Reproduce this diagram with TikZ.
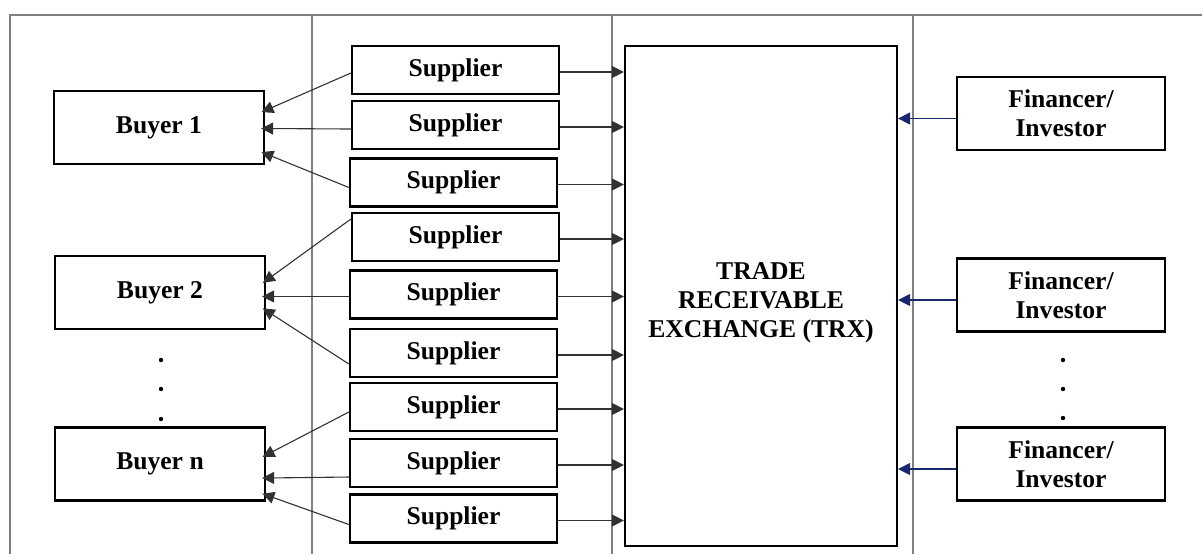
\documentclass[tikz,border=0pt]{standalone}
\usepackage{fontspec}
\setmainfont{Liberation Serif}
\usetikzlibrary{arrows.meta}
\definecolor{navy}{RGB}{25,40,110}
\definecolor{frame}{RGB}{128,128,128}
\definecolor{conn}{RGB}{50,50,50}
\tikzset{
  box/.style={draw=black, line width=1.1pt, fill=white, inner sep=0pt,
    font=\fontsize{12.8pt}{14.5pt}\selectfont\bfseries, align=center},
  buyer/.style={box, minimum width=105pt, minimum height=36.5pt},
  supplier/.style={box, minimum width=103.5pt, minimum height=24pt},
  fin/.style={box, minimum width=104pt, minimum height=36.5pt},
  divider/.style={draw=frame, line width=0.6pt},
  tobuyer/.style={draw=conn, line width=0.55pt, -{Triangle[length=6pt,width=6pt]}, shorten >=-2pt},
  totrx/.style={draw=conn, line width=0.55pt, -{Triangle[length=6pt,width=6pt]}},
  fromfin/.style={draw=navy, line width=0.55pt, -{Triangle[length=6pt,width=6pt]}},
  dotstyle/.style={fill=black, circle, inner sep=0pt, minimum size=2.2pt}
}
\begin{document}
\begin{tikzpicture}[x=0.5pt,y=-0.5pt]
\useasboundingbox (0,0) rectangle (1202,554);
% frame and dividers
\coordinate (tl) at (10,15);
\coordinate (tr) at (1202,15);
\coordinate (bl) at (10,554);
\draw[divider, line width=0.9pt] (tr) -- (tl) -- (bl);
\coordinate (d1t) at (312,15); \coordinate (d1b) at (312,554);
\coordinate (d2t) at (612,15); \coordinate (d2b) at (612,554);
\coordinate (d3t) at (913,15); \coordinate (d3b) at (913,554);
\draw[divider] (d1t) -- (d1b);
\draw[divider] (d2t) -- (d2b);
\draw[divider] (d3t) -- (d3b);

% buyers
\node[buyer] (b1) at (159,127.5) {Buyer 1};
\node[buyer] (b2) at (160,292.5) {Buyer 2};
\node[buyer] (bn) at (160,464) {Buyer n};
\node[dotstyle] (bd1) at (161,360) {};
\node[dotstyle] (bd2) at (161,389) {};
\node[dotstyle] (bd3) at (161,419) {};

% suppliers
\node[supplier] (s1) at (455.5,70) {Supplier};
\node[supplier] (s2) at (455.5,125) {Supplier};
\node[supplier] (s3) at (453.5,182.5) {Supplier};
\node[supplier] (s4) at (455.5,237) {Supplier};
\node[supplier] (s5) at (453.5,294.5) {Supplier};
\node[supplier] (s6) at (453.5,353) {Supplier};
\node[supplier] (s7) at (453.5,407) {Supplier};
\node[supplier] (s8) at (453.5,463) {Supplier};
\node[supplier] (s9) at (453.5,518.5) {Supplier};

% TRX
\node[box, minimum width=136pt, minimum height=250pt, fill=none] (trx) at (761,296) {};
\node[box, draw=none, fill=none] (trxtext) at (761,303)
  {TRADE\\RECEIVABLE\\EXCHANGE (TRX)};

% financers
\node[fin] (f1) at (1061,113.5) {Financer/\\Investor};
\node[fin] (f2) at (1061,295) {Financer/\\Investor};
\node[fin] (f3) at (1061,464) {Financer/\\Investor};
\node[dotstyle] (fd1) at (1063,360) {};
\node[dotstyle] (fd2) at (1063,389) {};
\node[dotstyle] (fd3) at (1063,418) {};

% supplier -> TRX
\foreach \s in {s1,s2,s3,s4,s5,s6,s7,s8,s9}{
  \draw[totrx] ([yshift=-1pt]\s.east) -- ([yshift=-1pt]\s.east -| trx.west);
}

% supplier -> buyer
\draw[tobuyer] ([yshift=-1.5pt]s1.west) -- ([yshift=8.5pt]b1.east);
\draw[tobuyer] ([yshift=-2pt]s2.west) -- ([yshift=-0.5pt]b1.east);
\draw[tobuyer] ([yshift=-2.5pt]s3.west) -- ([yshift=-13pt]b1.east);
\draw[tobuyer] ([yshift=9pt]s4.west) -- ([yshift=6pt]b2.east);
\draw[tobuyer] ([yshift=-1pt]s5.west) -- ([yshift=-2pt]b2.east);
\draw[tobuyer] ([yshift=-5.5pt]s6.west) -- ([yshift=-9pt]b2.east);
\draw[tobuyer] ([yshift=-2.5pt]s7.west) -- ([yshift=4.5pt]bn.east);
\draw[tobuyer] ([yshift=-7pt]s8.west) -- ([yshift=-7pt]bn.east);
\draw[tobuyer] ([yshift=-3pt]s9.west) -- ([yshift=-15.5pt]bn.east);

% financer -> TRX
\draw[fromfin] ([yshift=-2.5pt]f1.west) -- ([yshift=-2.5pt]f1.west -| trx.east);
\draw[fromfin] ([yshift=-2.5pt]f2.west) -- ([yshift=-2.5pt]f2.west -| trx.east);
\draw[fromfin] ([yshift=-2.5pt]f3.west) -- ([yshift=-2.5pt]f3.west -| trx.east);
\end{tikzpicture}
\end{document}
